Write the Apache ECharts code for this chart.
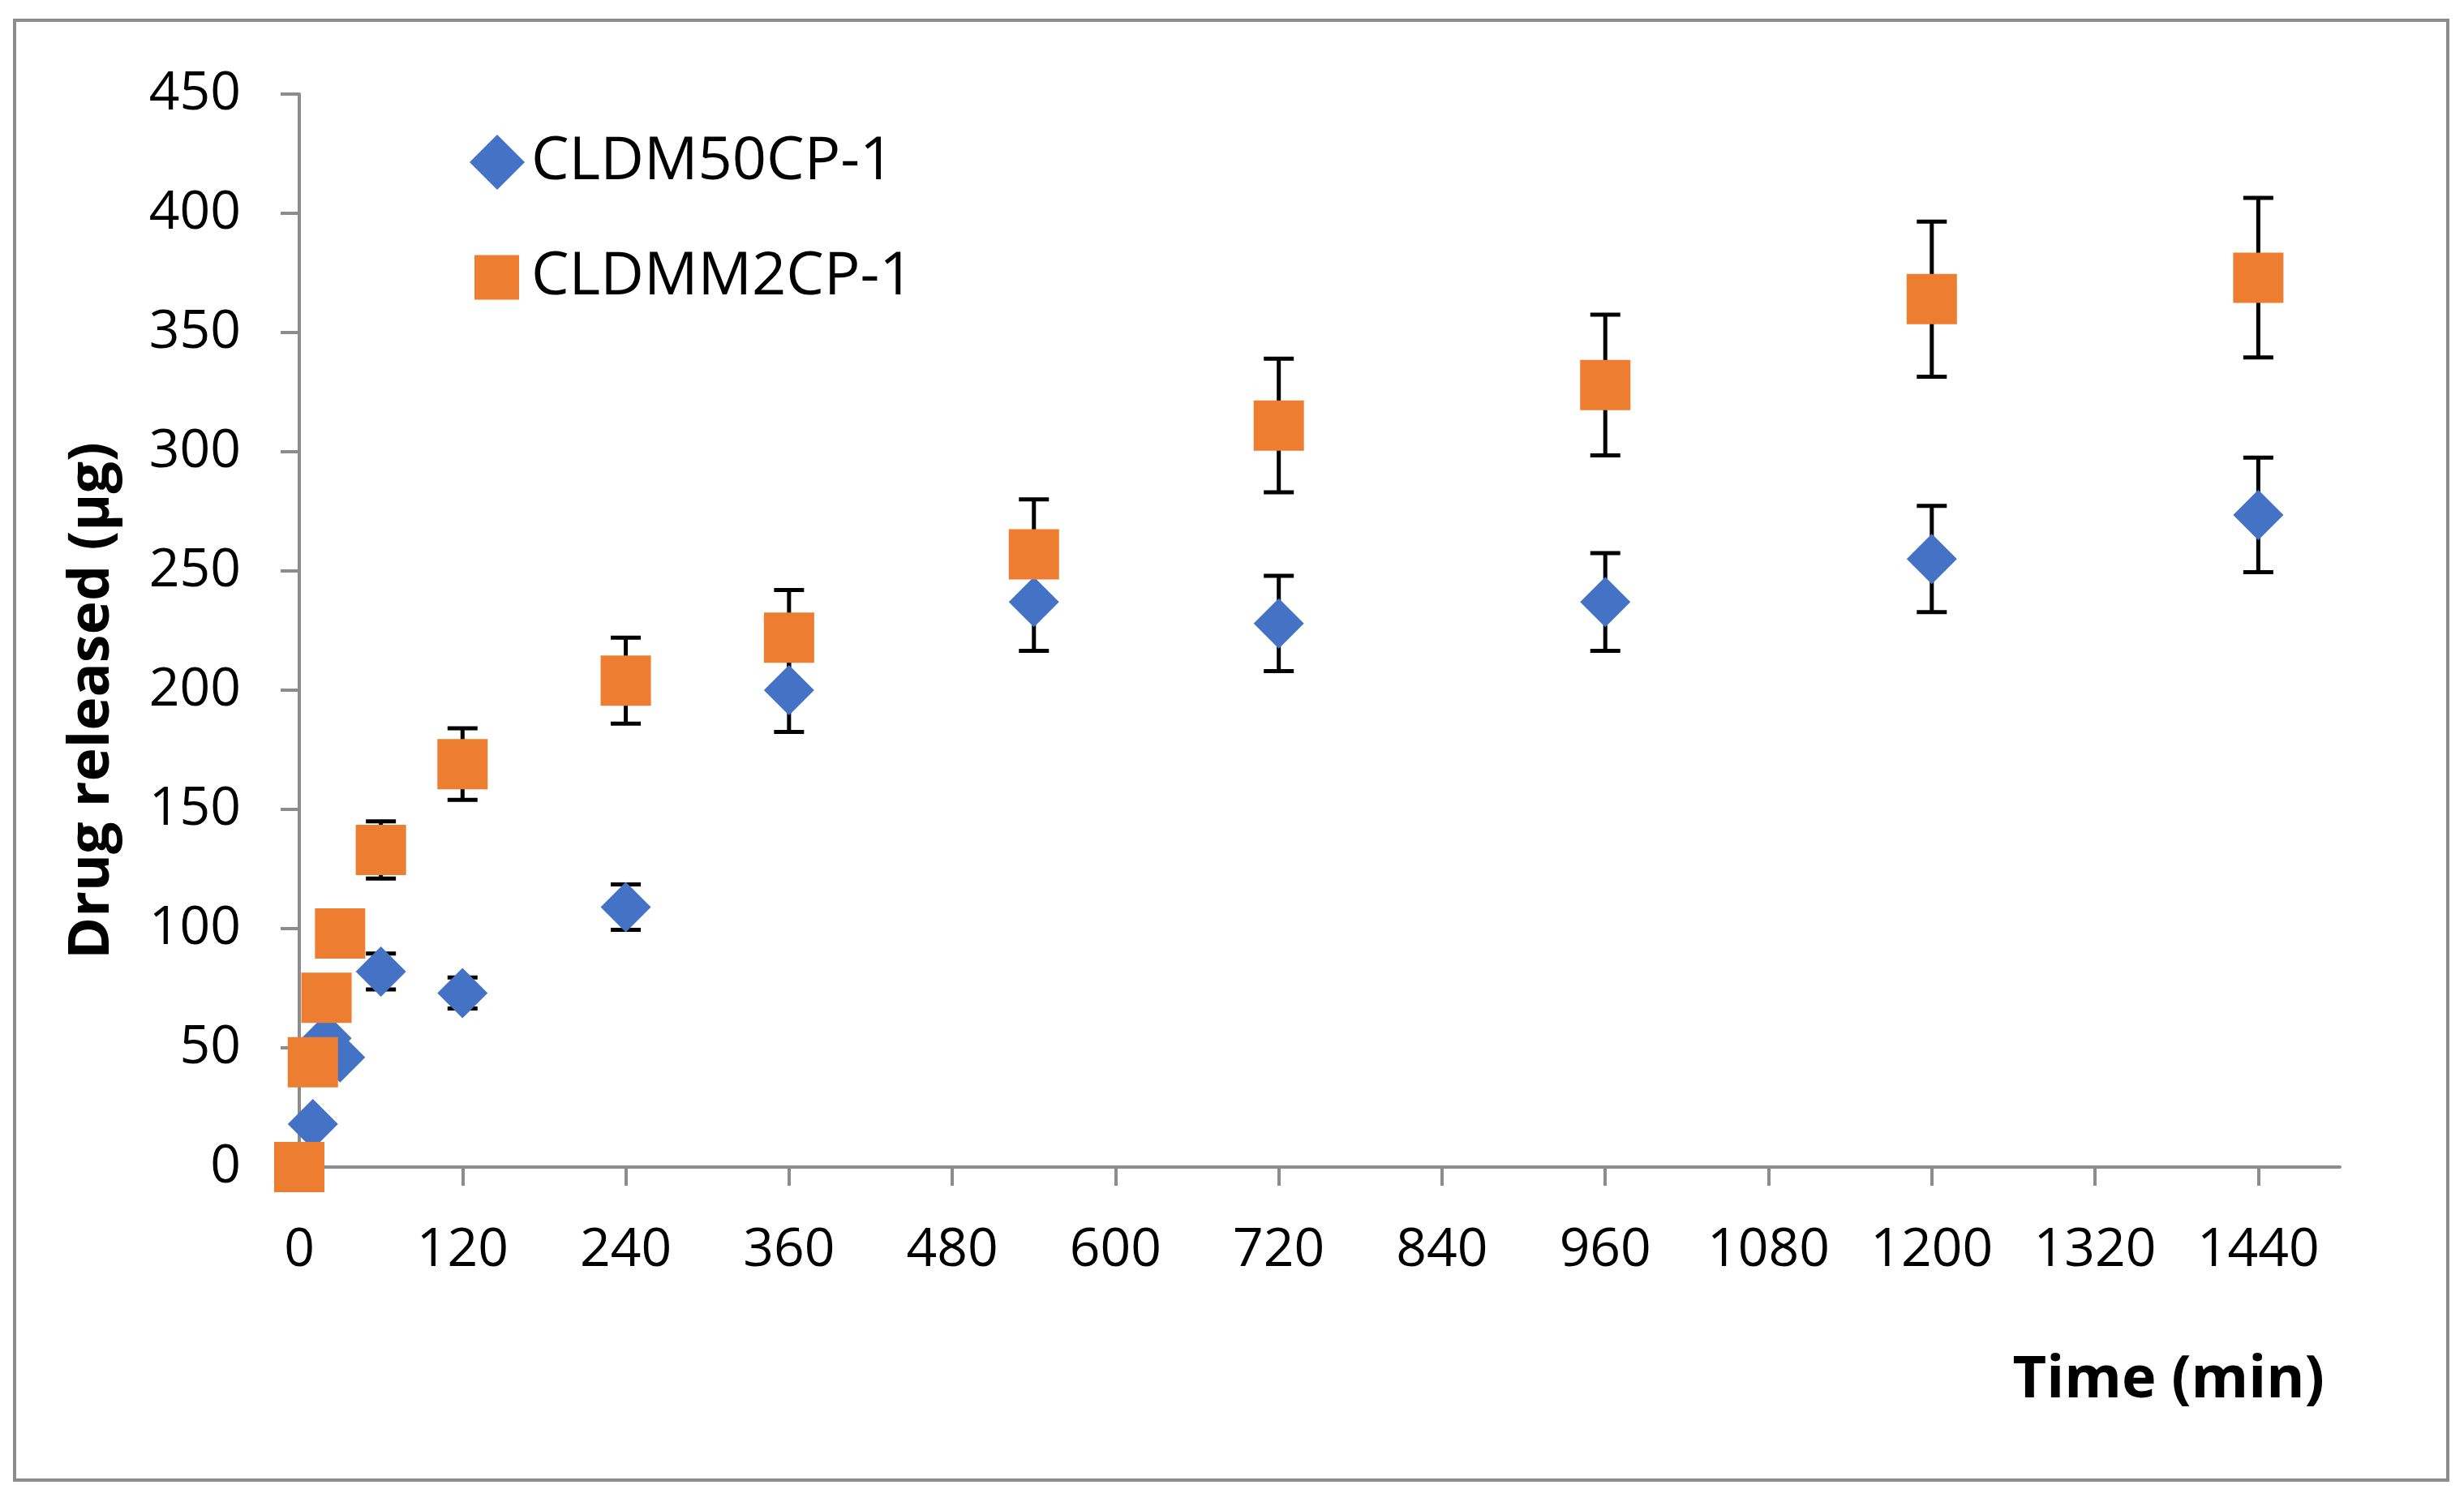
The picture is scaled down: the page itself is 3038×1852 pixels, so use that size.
<!DOCTYPE html>
<html>
<head>
<meta charset="utf-8">
<script src="https://cdn.jsdelivr.net/npm/echarts@6/dist/echarts.min.js"></script>
<style>
html,body{margin:0;padding:0;background:#fff;}
#chart{width:3038px;height:1852px;}
</style>
</head>
<body>
<div id="chart"></div>
<script>
// ---- data ----
const timePoints = [0, 10, 20, 30, 60, 120, 240, 360, 540, 720, 960, 1200, 1440];
const seriesNames = ['CLDM50CP-1', 'CLDMM2CP-1'];
const cldm50 = [0, 18, 54, 46, 82, 73, 109, 200, 237, 228, 237, 255, 273.5];
const cldm50Err = [0, 3, 3, 3, 7.5, 6.5, 9.5, 17.5, 20.5, 20, 20.5, 22.3, 24];
const cldmm2 = [0, 44, 71, 98, 133, 169, 204, 222, 257, 311, 328, 364, 373];
const cldmm2Err = [0, 3, 4, 5, 12, 15, 18, 20, 23, 28, 29.5, 32.5, 33.5];
const xTickLabels = [0, 120, 240, 360, 480, 600, 720, 840, 960, 1080, 1200, 1320, 1440];
const xTitle = 'Time (min)';
const yTitle = 'Drug released (µg)';

const FONT = '"Open Sans", "Liberation Sans", sans-serif';
const AXIS_GREY = '#8c8c8c';

function pts(vals) { return timePoints.map((t, i) => [t, vals[i]]); }
function errPts(vals, errs) { return timePoints.map((t, i) => [t, vals[i] - errs[i], vals[i] + errs[i]]); }

function errorBarRender(params, api) {
  const x = api.value(0);
  const lo = api.coord([x, api.value(1)]);
  const hi = api.coord([x, api.value(2)]);
  const hw = 18.5;
  const st = { stroke: '#000', lineWidth: 5 };
  return {
    type: 'group',
    children: [
      { type: 'line', shape: { x1: lo[0], y1: lo[1], x2: hi[0], y2: hi[1] }, style: st },
      { type: 'line', shape: { x1: hi[0] - hw, y1: hi[1], x2: hi[0] + hw, y2: hi[1] }, style: st },
      { type: 'line', shape: { x1: lo[0] - hw, y1: lo[1], x2: lo[0] + hw, y2: lo[1] }, style: st }
    ]
  };
}

const legendText = { fontFamily: FONT, fontSize: 74, color: '#000' };

const chart = echarts.init(document.getElementById('chart'), null, { renderer: 'canvas' });
chart.setOption({
  animation: false,
  backgroundColor: '#fff',
  grid: { left: 369, right: 153, top: 116, bottom: 413 },
  legend: [
    {
      orient: 'vertical',
      left: 574,
      top: 158,
      itemWidth: 68,
      itemHeight: 68,
      data: [{ name: seriesNames[0], icon: 'diamond' }],
      textStyle: Object.assign({ padding: [0, 0, 0, 3] }, legendText)
    },
    {
      orient: 'vertical',
      left: 580,
      top: 300,
      itemWidth: 55,
      itemHeight: 55,
      data: [{ name: seriesNames[1], icon: 'rect' }],
      textStyle: Object.assign({ padding: [0, 0, 0, 10] }, legendText)
    }
  ],
  xAxis: {
    type: 'value',
    min: 0,
    max: 1500,
    interval: 120,
    splitLine: { show: false },
    axisLine: { show: true, onZero: false, lineStyle: { color: AXIS_GREY, width: 4 } },
    axisTick: { show: true, length: 23, lineStyle: { color: AXIS_GREY, width: 4 }, customValues: xTickLabels },
    axisLabel: {
      customValues: xTickLabels, margin: 70, color: '#000', fontFamily: FONT, fontSize: 66,
      formatter: function (v) { return String(v); }
    }
  },
  yAxis: {
    type: 'value',
    min: 0,
    max: 450,
    interval: 50,
    splitLine: { show: false },
    axisLine: { show: true, lineStyle: { color: AXIS_GREY, width: 4 } },
    axisTick: { show: true, length: 23, lineStyle: { color: AXIS_GREY, width: 4 } },
    axisLabel: { margin: 72, color: '#000', fontFamily: FONT, fontSize: 66, formatter: function (v) { return String(v); } }
  },
  graphic: [
    {
      type: 'rect', silent: true, z: -10,
      shape: { x: 18, y: 25, width: 3000, height: 1800 },
      style: { fill: 'none', stroke: AXIS_GREY, lineWidth: 4 }
    },
    {
      type: 'text', x: 2866, y: 1702,
      style: { text: xTitle, font: 'bold 72px ' + FONT, fill: '#000', textAlign: 'right', textVerticalAlign: 'middle' }
    },
    {
      type: 'text', x: 114, y: 864, rotation: Math.PI / 2,
      style: { text: yTitle, font: 'bold 70px ' + FONT, fill: '#000', textAlign: 'center', textVerticalAlign: 'middle' }
    }
  ],
  series: [
    {
      type: 'custom', name: 'err50', z: 1, clip: false,
      renderItem: errorBarRender,
      encode: { x: 0, y: [1, 2] },
      data: errPts(cldm50, cldm50Err)
    },
    {
      type: 'custom', name: 'errM2', z: 1, clip: false,
      renderItem: errorBarRender,
      encode: { x: 0, y: [1, 2] },
      data: errPts(cldmm2, cldmm2Err)
    },
    {
      type: 'scatter', name: seriesNames[0], z: 2, clip: false,
      symbol: 'diamond', symbolSize: 62,
      itemStyle: { color: '#4472C4', opacity: 1 },
      data: pts(cldm50)
    },
    {
      type: 'scatter', name: seriesNames[1], z: 3, clip: false,
      symbol: 'rect', symbolSize: 62,
      itemStyle: { color: '#ED7D31', opacity: 1 },
      data: pts(cldmm2)
    }
  ]
});
</script>
</body>
</html>
